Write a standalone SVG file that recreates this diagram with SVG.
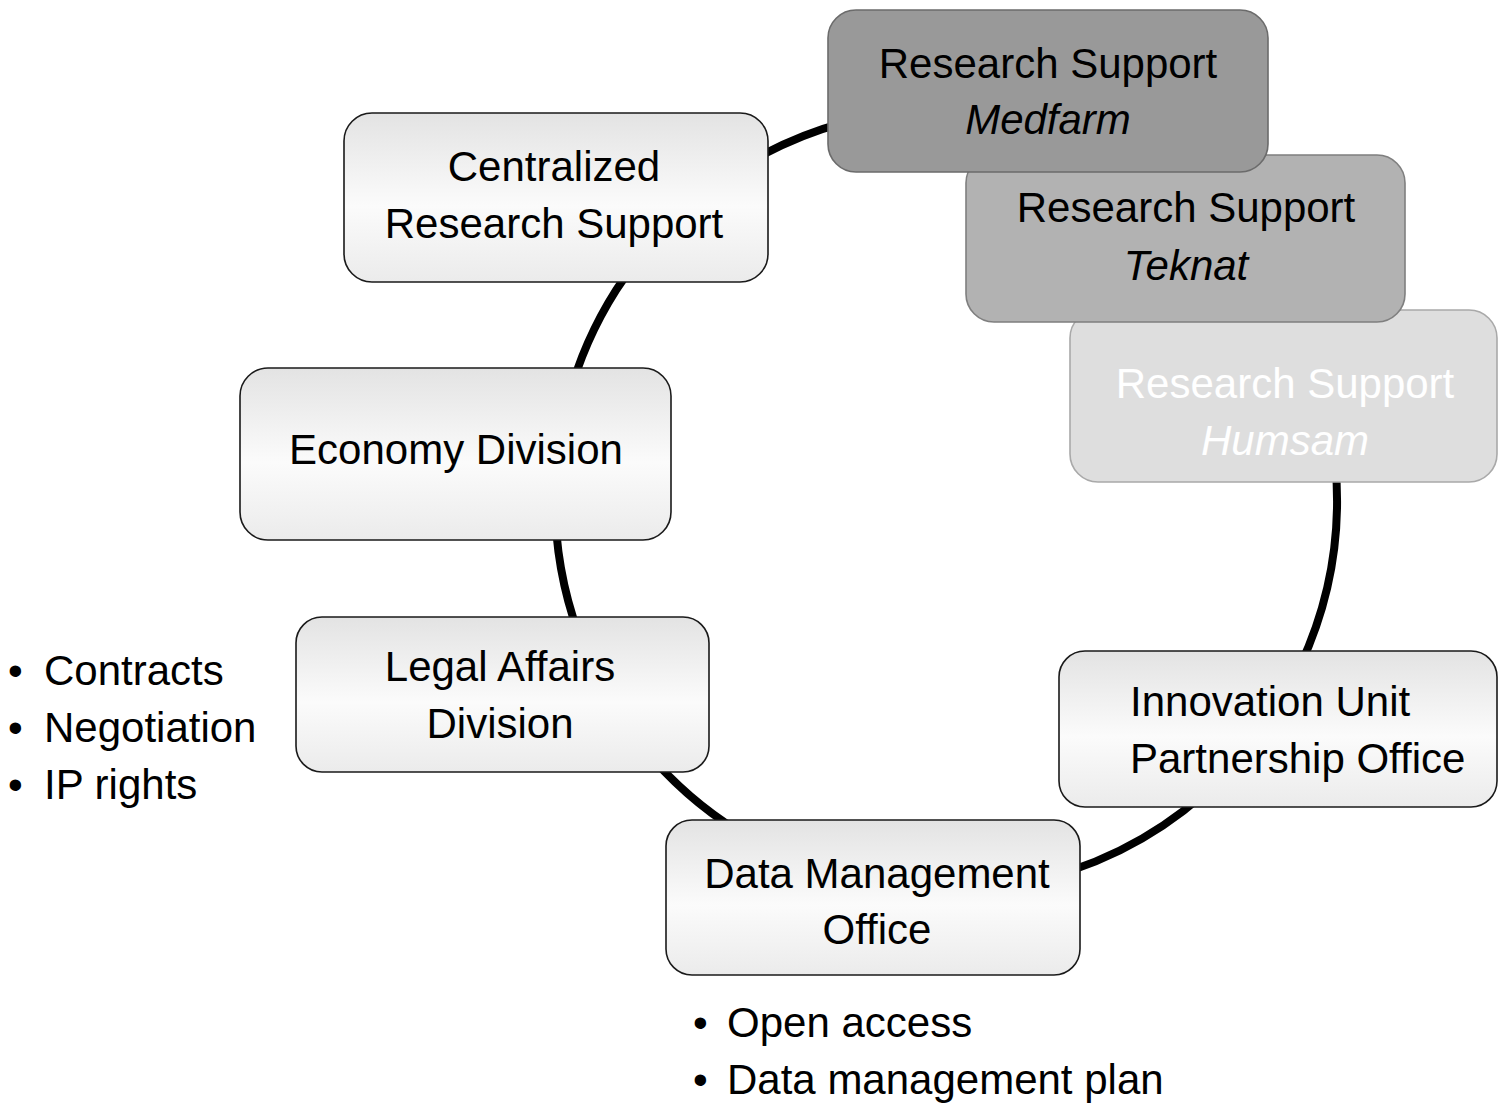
<svg xmlns="http://www.w3.org/2000/svg" width="1499" height="1103" viewBox="0 0 1499 1103">
<defs>
<linearGradient id="g" x1="0" y1="0" x2="0" y2="1">
<stop offset="0" stop-color="#e3e3e3"/>
<stop offset="0.55" stop-color="#fbfbfb"/>
<stop offset="1" stop-color="#ebebeb"/>
</linearGradient>
<style>
.box{fill:url(#g);stroke:#1a1a1a;stroke-width:1.6}
.t{font-family:"Liberation Sans",Arial,sans-serif;font-size:42px;fill:#000}
.c{text-anchor:middle}
.i{font-style:italic}
.arc{fill:none;stroke:#000;stroke-width:8}
</style>
</defs>
<rect width="1499" height="1103" fill="#fff"/>
<g id="connectors">
<path class="arc" d="M750.5,161.4 A391,391 0 0 1 844.8,122.3"/>
<path class="arc" d="M568.3,398.8 A391,391 0 0 1 694.7,200.5"/>
<path class="arc" d="M591.6,665.2 A391,391 0 0 1 556.5,534.1"/>
<path class="arc" d="M750.5,838.6 A391,391 0 0 1 625.7,724.3"/>
<path class="arc" d="M1222.5,776.5 A391,391 0 0 1 1047.2,877.7"/>
<path class="arc" d="M1335.5,465.9 A391,391 0 0 1 1300.4,665.2"/>
</g>
<g id="node-centralized">
<rect class="box" x="344" y="113" width="424" height="169" rx="28"/>
<text class="t c" x="554" y="181">Centralized</text>
<text class="t c" x="554" y="238">Research Support</text>
</g>
<g id="node-economy">
<rect class="box" x="240" y="368" width="431" height="172" rx="28"/>
<text class="t c" x="456" y="464">Economy Division</text>
</g>
<g id="node-legal">
<rect class="box" x="296" y="617" width="413" height="155" rx="26"/>
<text class="t c" x="500" y="681">Legal Affairs</text>
<text class="t c" x="500" y="738">Division</text>
</g>
<g id="node-data">
<rect class="box" x="666" y="820" width="414" height="155" rx="26"/>
<text class="t c" x="877" y="888">Data Management</text>
<text class="t c" x="877" y="944">Office</text>
</g>
<g id="node-innovation">
<rect class="box" x="1059" y="651" width="438" height="156" rx="26"/>
<text class="t" x="1130" y="716">Innovation Unit</text>
<text class="t" x="1130" y="773">Partnership Office</text>
</g>
<g id="node-humsam">
<rect x="1070" y="310" width="427" height="172" rx="28" fill="#dedede" stroke="#a9a9a9" stroke-width="1.6"/>
<text class="t c" x="1285" y="398" fill="#fff" style="fill:#fff">Research Support</text>
<text class="t c i" x="1285" y="455" style="fill:#fff">Humsam</text>
</g>
<g id="node-teknat">
<rect x="966" y="155" width="439" height="167" rx="28" fill="#b2b2b2" stroke="#7f7f7f" stroke-width="1.6"/>
<text class="t c" x="1186" y="222">Research Support</text>
<text class="t c i" x="1186" y="280">Teknat</text>
</g>
<g id="node-medfarm">
<rect x="828" y="10" width="440" height="162" rx="28" fill="#999999" stroke="#6b6b6b" stroke-width="1.6"/>
<text class="t c" x="1048" y="78">Research Support</text>
<text class="t c i" x="1048" y="134">Medfarm</text>
</g>
<g id="legal-notes">
<text class="t"><tspan x="8" y="685">•</tspan><tspan x="44" y="685">Contracts</tspan></text>
<text class="t"><tspan x="8" y="742">•</tspan><tspan x="44" y="742">Negotiation</tspan></text>
<text class="t"><tspan x="8" y="799">•</tspan><tspan x="44" y="799">IP rights</tspan></text>
</g>
<g id="data-notes">
<text class="t"><tspan x="693" y="1037">•</tspan><tspan x="727" y="1037">Open access</tspan></text>
<text class="t"><tspan x="693" y="1094">•</tspan><tspan x="727" y="1094">Data management plan</tspan></text>
</g>
</svg>
